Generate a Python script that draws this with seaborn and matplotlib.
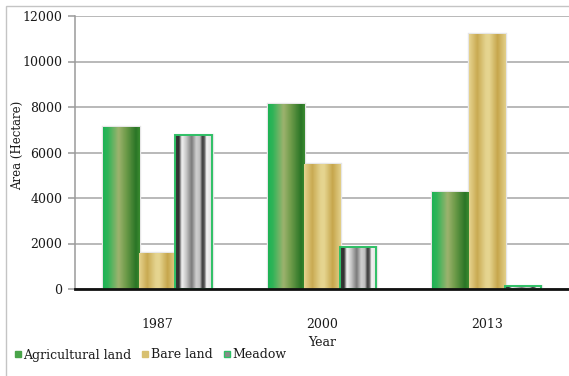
import numpy as np
import pandas as pd
import matplotlib
matplotlib.use("Agg")
import matplotlib.pyplot as plt
from matplotlib.colors import LinearSegmentedColormap
from matplotlib.lines import Line2D
from matplotlib.patches import Rectangle
import seaborn as sns

years = ["1987", "2000", "2013"]
land_types = ["Agricultural land", "Bare land", "Meadow"]
agricultural = [7100, 8150, 4270]
bare = [1600, 5480, 11200]
meadow = [6750, 1860, 150]
y_ticks = [0, 2000, 4000, 6000, 8000, 10000, 12000]

df = pd.DataFrame({
    "Year": years * 3,
    "Land": [t for t in land_types for _ in years],
    "Area": agricultural + bare + meadow,
})

sns.set_theme(style="white")
plt.rcParams["font.family"] = ["DejaVu Serif"]

# horizontal colour stops for the shaded bars
shades = {
    "Agricultural land": [(0.0, "#1db254"), (0.12, "#2fb458"), (0.42, "#9db26e"),
                          (0.62, "#6f9c4a"), (0.9, "#2a7526"), (1.0, "#3a8a30")],
    "Bare land": [(0.0, "#e6d38e"), (0.22, "#c9aa52"), (0.45, "#e4d38e"),
                  (0.55, "#e6d590"), (0.78, "#c6a64c"), (1.0, "#e2cf88")],
    "Meadow": [(0.0, "#3a3a3a"), (0.1, "#2e2e2e"), (0.18, "#f2f2f2"), (0.3, "#c8c8c8"),
               (0.45, "#7a7a7a"), (0.58, "#d0d0d0"), (0.68, "#bdbdbd"), (0.74, "#3c3c3c"),
               (0.8, "#555555"), (0.86, "#f4f4f4"), (1.0, "#dcdcdc")],
}
base = {"Agricultural land": "#5aa94f", "Bare land": "#d8c070", "Meadow": "#a0a0a0"}
edges = {"Agricultural land": "none", "Bare land": "none", "Meadow": "#2fc066"}

fig = plt.figure(figsize=(5.69, 3.76), dpi=100)
ax = fig.add_axes([75 / 569, 1 - 289 / 376, 494 / 569, 273 / 376])

sns.barplot(data=df, x="Year", y="Area", hue="Land", order=years, hue_order=land_types,
            palette=base, width=0.66, gap=0, saturation=1, ax=ax, legend=False,
            edgecolor="none", linewidth=0, err_kws={"linewidth": 0})

ax.set_ylim(0, 12000)
ax.set_xlim(-0.5, 2.5)

for land, cont in zip(land_types, ax.containers):
    cmap = LinearSegmentedColormap.from_list(land, shades[land])
    grad = cmap(np.linspace(0, 1, 64))[None, :, :]
    for bar in cont.patches:
        x0, y0 = bar.get_x(), bar.get_y()
        w, h = bar.get_width(), bar.get_height()
        im = ax.imshow(grad, extent=(x0, x0 + w, y0, y0 + h), aspect="auto",
                       interpolation="bilinear", zorder=3)
        im.set_clip_path(bar)
        if edges[land] != "none":
            ax.add_patch(Rectangle((x0, y0), w, h, fill=False, edgecolor=edges[land],
                                   linewidth=1.4, zorder=4))
        # soft light halo around each bar
        ax.add_patch(Rectangle((x0, y0), w, h, fill=False, edgecolor="#e6e6e6",
                               linewidth=2.4, zorder=2.5))

ax.set_xlim(-0.5, 2.5)
ax.set_ylim(0, 12000)
ax.set_yticks(y_ticks)
ax.set_yticklabels([str(t) for t in y_ticks])
ax.yaxis.grid(True, color="#a6a6a6", linewidth=1.1)
ax.set_axisbelow(True)

for side in ["top", "right"]:
    ax.spines[side].set_visible(False)
ax.spines["left"].set_color("#9a9a9a")
ax.spines["left"].set_linewidth(1.1)
ax.spines["bottom"].set_color("#111111")
ax.spines["bottom"].set_linewidth(2)
ax.spines["bottom"].set_zorder(5)

ax.tick_params(axis="y", left=True, length=5, width=1.1, color="#9a9a9a", pad=4,
               labelsize=9, labelcolor="#1a1a1a")
ax.tick_params(axis="x", bottom=False, pad=15, labelsize=9, labelcolor="#1a1a1a")

ax.set_xlabel("Year", fontsize=9, color="#1a1a1a")
ax.set_ylabel("Area (Hectare)", fontsize=8.5, color="#1a1a1a")
ax.xaxis.set_label_coords(0.5, -0.172)
ax.yaxis.set_label_coords(-0.104, 0.527)

handles = [
    Line2D([], [], linestyle="none", marker="s", markersize=4.5,
           markerfacecolor="#4aa44a", markeredgecolor="#4aa44a"),
    Line2D([], [], linestyle="none", marker="s", markersize=4.5,
           markerfacecolor="#d8c070", markeredgecolor="#d8c070"),
    Line2D([], [], linestyle="none", marker="s", markersize=4.5,
           markerfacecolor="#8a8a8a", markeredgecolor="#2fc066", markeredgewidth=1),
]
fig.legend(handles, land_types, loc="center left", bbox_to_anchor=(14 / 569, 1 - 355 / 376),
           ncol=3, frameon=False, fontsize=9, handlelength=0.6, handletextpad=0.15,
           columnspacing=0.8, borderpad=0, borderaxespad=0, labelcolor="#1a1a1a")

# thin frame along the top and left edges of the figure
fig.add_artist(Rectangle((5.5 / 569, -0.1), 1.2, 1 - 5.5 / 376 + 0.1, transform=fig.transFigure,
                         fill=False, edgecolor="#c4c4c4", linewidth=1))

fig.savefig("out.png", dpi=100)
